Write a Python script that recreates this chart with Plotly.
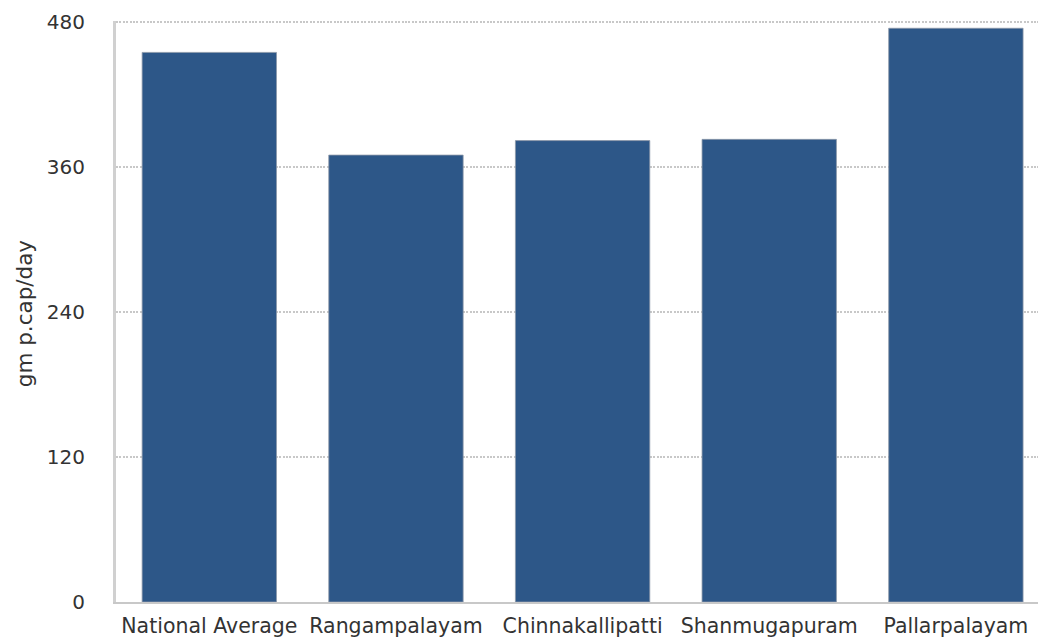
import plotly.graph_objects as go

# Per-capita daily quantity by location
categories = ["National Average", "Rangampalayam", "Chinnakallipatti", "Shanmugapuram", "Pallarpalayam"]
values = [455, 370, 382, 383, 475]
y_ticks = [0, 120, 240, 360, 480]
y_title = "gm p.cap/day"

BAR_COLOR = "#2d5788"
FONT = "DejaVu Sans, Verdana, sans-serif"
TEXT_COLOR = "#333333"

fig = go.Figure(
    go.Bar(
        x=categories,
        y=values,
        marker=dict(color=BAR_COLOR, line=dict(color="#8d98a8", width=0.8)),
        hoverinfo="x+y",
    )
)

fig.update_layout(
    width=1038,
    height=639,
    margin=dict(l=116, r=0, t=21, b=37),
    paper_bgcolor="white",
    plot_bgcolor="white",
    bargap=0.28,
    showlegend=False,
    font=dict(family=FONT, size=20, color=TEXT_COLOR),
    xaxis=dict(
        range=[-0.5, 4.44],
        showline=True,
        linecolor="#c8c8c8",
        linewidth=2,
        ticks="",
        showgrid=False,
        ticklabelstandoff=4,
        tickfont=dict(size=20.5, color=TEXT_COLOR),
    ),
    yaxis=dict(
        range=[0, 481],
        tickvals=y_ticks,
        showline=True,
        linecolor="#d0d0d0",
        linewidth=3,
        showgrid=True,
        gridcolor="#c8c8c8",
        gridwidth=2,
        griddash="2px,1.4px",
        zeroline=False,
        ticks="",
        ticklabelstandoff=24,
        tickfont=dict(size=20, color=TEXT_COLOR),
    ),
    annotations=[
        dict(
            text=y_title,
            xref="paper",
            yref="paper",
            x=(24 - 116) / 922,
            y=(601.5 - 313) / 580.5,
            xanchor="center",
            yanchor="middle",
            textangle=-90,
            showarrow=False,
            font=dict(family=FONT, size=21.5, color=TEXT_COLOR),
        )
    ],
)

fig.write_html("out.html")
